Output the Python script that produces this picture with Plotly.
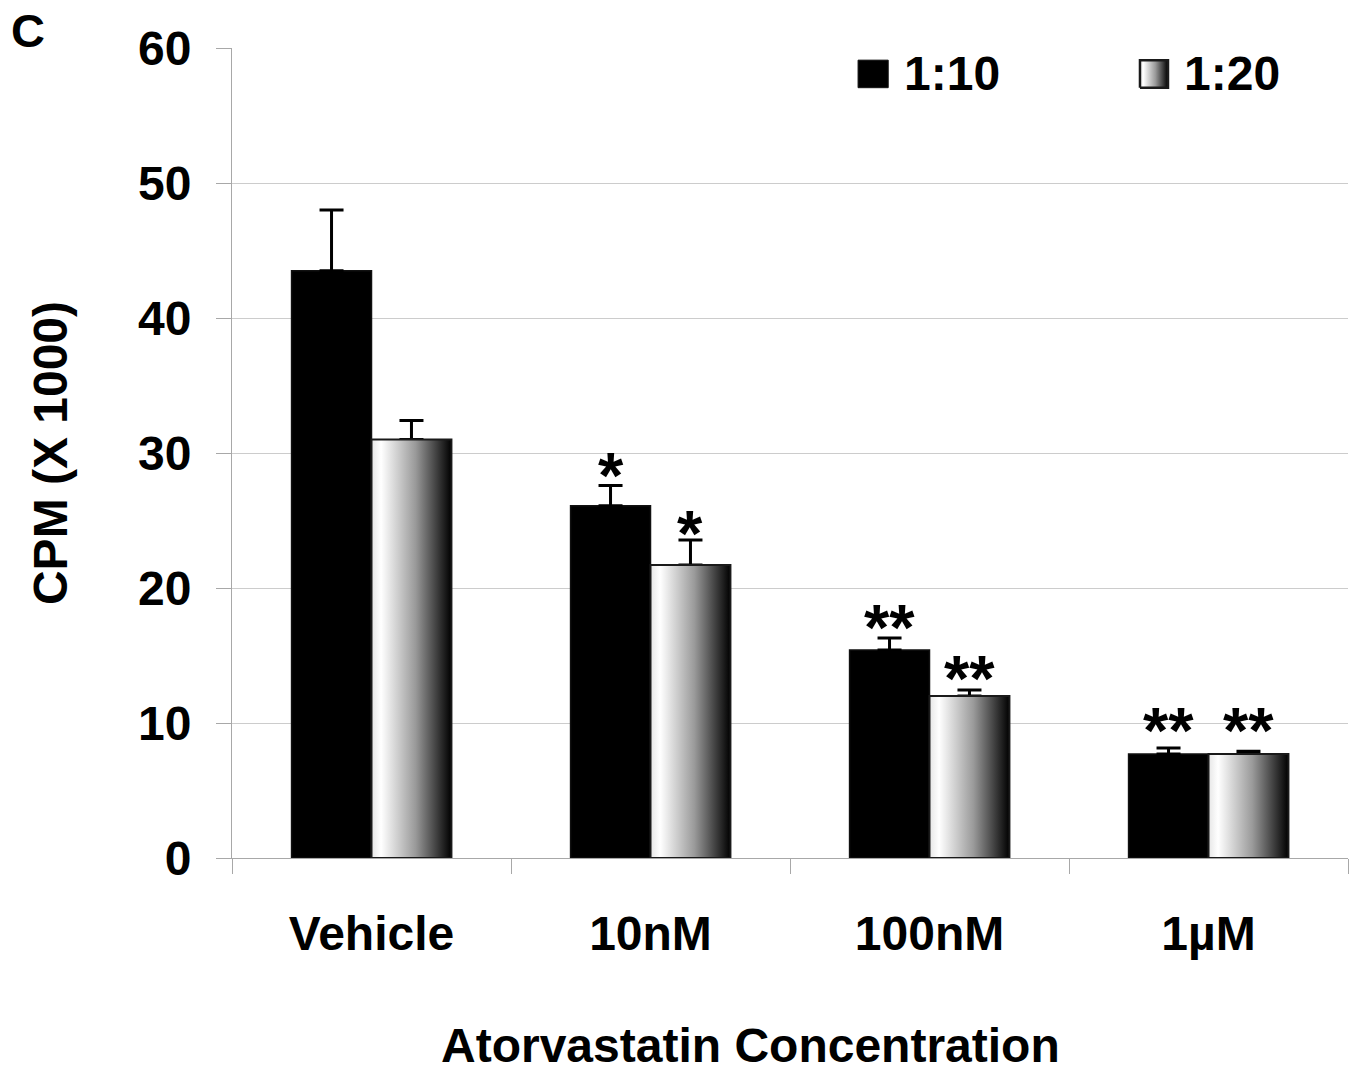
import plotly.graph_objects as go

# ---------------- data ----------------
categories = ["Vehicle", "10nM", "100nM", "1µM"]
series_names = ["1:10", "1:20"]
vals_110 = [43.5, 26.1, 15.4, 7.7]
err_110 = [4.5, 1.5, 0.9, 0.45]
vals_120 = [31.0, 21.7, 12.0, 7.7]
err_120 = [1.4, 1.85, 0.45, 0.2]
sig_110 = ["", "*", "**", "**"]
sig_120 = ["", "*", "**", "**"]
y_ticks = [0, 10, 20, 30, 40, 50, 60]
panel_label = "C"
x_title = "Atorvastatin Concentration"
y_title = "CPM (X 1000)"

# ---------------- style ----------------
FONT = "Liberation Sans, Arial, sans-serif"
FS = 48
AXIS_GREY = "#a8a8a8"
GRID_GREY = "#cccccc"
BARGAP = 0.427
bar_w = (1 - BARGAP) / 2
GRAD = [[0.0, "#e6e6e6"], [0.12, "#ffffff"], [0.55, "#9a9a9a"], [1.0, "#000000"]]
STAR_SIZE = 65
STAR_SHIFT_110 = [-29, -29, -28, -21]   # pixel nudges for the star labels
STAR_SHIFT_120 = [-29, -32, -27, -18]

fig = go.Figure()

fig.add_trace(go.Bar(
    x=categories, y=vals_110, name=series_names[0],
    marker=dict(color="black", line=dict(color="#111111", width=1.5)),
    error_y=dict(type="data", symmetric=False, array=err_110,
                 arrayminus=[0] * len(err_110), color="black", thickness=3, width=12),
    showlegend=False, hoverinfo="skip"))

fig.add_trace(go.Bar(
    x=categories, y=vals_120, name=series_names[1],
    marker=dict(color="rgba(0,0,0,0)", line=dict(width=0)),
    error_y=dict(type="data", symmetric=False, array=err_120,
                 arrayminus=[0] * len(err_120), color="black", thickness=3, width=12),
    showlegend=False, hoverinfo="skip"))

# gradient fill for the 1:20 bars (drawn over their bar slots)
for i, v in enumerate(vals_120):
    x0, x1 = i, i + bar_w
    fig.add_trace(go.Scatter(
        x=[x0, x1, x1, x0, x0], y=[0, 0, v, v, 0], xaxis="x2", yaxis="y",
        mode="lines", fill="toself",
        fillgradient=dict(type="horizontal", colorscale=GRAD),
        line=dict(color="#1a1a1a", width=2),
        showlegend=False, hoverinfo="skip"))

# legend gradient icon
lx0, lx1, ly0, ly1 = 0.8136, 0.8387, 0.951, 0.985
fig.add_trace(go.Scatter(
    x=[lx0, lx1, lx1, lx0, lx0], y=[ly0, ly0, ly1, ly1, ly0], xaxis="x3", yaxis="y3",
    mode="lines", fill="toself",
    fillgradient=dict(type="horizontal", colorscale=GRAD),
    line=dict(color="#1a1a1a", width=2.5),
    showlegend=False, hoverinfo="skip"))

annotations = []
# significance stars
for i in range(len(categories)):
    for vals, errs, sig, off, shifts in ((vals_110, err_110, sig_110, -bar_w / 2, STAR_SHIFT_110),
                                         (vals_120, err_120, sig_120, bar_w / 2, STAR_SHIFT_120)):
        if sig[i]:
            annotations.append(dict(
                x=i + off, y=vals[i] + errs[i], xref="x2", yref="y",
                text=sig[i], showarrow=False, yanchor="bottom", yshift=shifts[i],
                font=dict(family=FONT, size=STAR_SIZE, color="black", weight=700)))

annotations += [
    dict(text=panel_label, x=-0.2, y=1.022, xref="paper", yref="paper",
         xanchor="left", yanchor="middle", showarrow=False,
         font=dict(family=FONT, size=47, color="black", weight=700)),
    dict(text=x_title, x=0.465, y=-0.231, xref="paper", yref="paper",
         xanchor="center", yanchor="middle", showarrow=False,
         font=dict(family=FONT, size=FS, color="black", weight=700)),
    dict(text=series_names[0], x=0.6, y=0.968, xref="paper", yref="paper",
         xanchor="left", yanchor="middle", showarrow=False,
         font=dict(family=FONT, size=FS, color="black", weight=700)),
    dict(text=series_names[1], x=0.851, y=0.968, xref="paper", yref="paper",
         xanchor="left", yanchor="middle", showarrow=False,
         font=dict(family=FONT, size=FS, color="black", weight=700)),
]

shapes = [
    dict(type="rect", xref="paper", yref="paper", x0=0.5, x1=1.01, y0=0.97, y1=1.03,
         fillcolor="white", line=dict(width=0), layer="between"),
    dict(type="rect", xref="paper", yref="paper", x0=0.561, x1=0.588, y0=0.951, y1=0.985,
         fillcolor="black", line=dict(color="#111111", width=1), layer="above"),
]

fig.update_layout(
    width=1357, height=1074,
    margin=dict(l=232, r=9, t=48, b=216),
    paper_bgcolor="white", plot_bgcolor="white",
    barmode="group", bargap=BARGAP, bargroupgap=0,
    showlegend=False,
    font=dict(family=FONT, color="black"),
    xaxis=dict(type="category", range=[-0.5, 3.5], tickson="boundaries",
               ticks="outside", ticklen=15, tickcolor=AXIS_GREY, tickwidth=1,
               showline=True, linecolor=AXIS_GREY, linewidth=1, showgrid=False,
               tickfont=dict(family=FONT, size=FS, color="black", weight=700),
               ticklabelstandoff=33, fixedrange=True),
    xaxis2=dict(overlaying="x", range=[-0.5, 3.5], visible=False, fixedrange=True),
    xaxis3=dict(overlaying="x", range=[0, 1], visible=False, fixedrange=True),
    yaxis=dict(range=[0, 60], tickvals=y_ticks, ticks="outside", ticklen=15,
               tickcolor=AXIS_GREY, tickwidth=1,
               showline=True, linecolor=AXIS_GREY, linewidth=1,
               showgrid=True, gridcolor=GRID_GREY, gridwidth=1, zeroline=False,
               tickfont=dict(family=FONT, size=FS, color="black", weight=700),
               ticklabelstandoff=15,
               title=dict(text=y_title, standoff=55,
                          font=dict(family=FONT, size=FS, color="black", weight=700)),
               fixedrange=True),
    yaxis3=dict(overlaying="y", range=[0, 1], visible=False, fixedrange=True),
    annotations=annotations,
    shapes=shapes,
)

fig.write_html("out.html")
